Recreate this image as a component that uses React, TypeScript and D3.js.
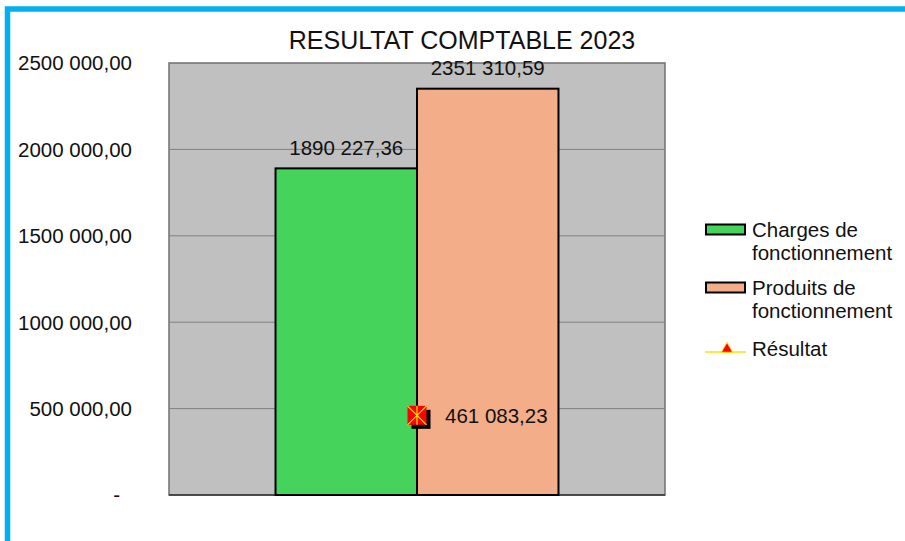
import React, { useRef, useEffect } from "react";
import * as d3 from "d3";

// data
const categories = ["2023"];
const seriesNames = ["Charges de fonctionnement", "Produits de fonctionnement"];
const seriesValues = [1890227.36, 2351310.59];
const resultName = "Résultat";
const resultValue = [461083.23];
const yTicks = [0, 500000, 1000000, 1500000, 2000000, 2500000];
const title = "RESULTAT COMPTABLE 2023";

const colors = ["#45d35c", "#f3ad89"];
const W = 905;
const H = 541;
const plot = { left: 169, top: 63, right: 665, bottom: 495 };
const font = "'Liberation Sans', Arial, sans-serif";

const fr = d3.formatLocale({ decimal: ",", thousands: " ", grouping: [3, 4], currency: ["", ""] });
const fmt = (v: number) => (v === 0 ? "-" : fr.format(",.2f")(v));

function App() {
  const svgRef = useRef<SVGSVGElement>(null);

  useEffect(() => {
    const svg = d3.select(svgRef.current);
    svg.selectAll("*").remove();

    const y = d3.scaleLinear().domain([0, 2500000]).range([plot.bottom, plot.top]);
    const x = d3.scaleBand().domain(categories).range([plot.left, plot.right]).padding(0.2735);
    const xs = d3.scaleBand().domain(seriesNames).range([0, x.bandwidth()]);

    // frame
    svg.append("rect").attr("x", 7.5).attr("y", 9).attr("width", W).attr("height", H)
      .attr("fill", "none").attr("stroke", "#00b0f0").attr("stroke-width", 5.5);

    svg.append("text").attr("x", 462).attr("y", 49).attr("text-anchor", "middle")
      .attr("font-size", 25).attr("font-family", font).attr("fill", "#111").text(title);

    // plot area
    svg.append("rect").attr("x", plot.left).attr("y", plot.top)
      .attr("width", plot.right - plot.left).attr("height", plot.bottom - plot.top)
      .attr("fill", "#c0c0c0").attr("stroke", "#707070").attr("stroke-width", 1.5);

    svg.selectAll(".grid").data(yTicks.filter((d) => d > 0 && d < 2500000)).join("line")
      .attr("x1", plot.left).attr("x2", plot.right)
      .attr("y1", (d) => y(d)).attr("y2", (d) => y(d))
      .attr("stroke", "#808080").attr("stroke-width", 1);

    svg.selectAll(".ytick").data(yTicks).join("text")
      .attr("x", (d) => (d === 0 ? 120 : 132)).attr("y", (d) => y(d) + 7.3)
      .attr("text-anchor", "end").attr("font-size", 20.5).attr("font-family", font)
      .attr("fill", "#111").text((d) => fmt(d));

    svg.append("line").attr("x1", plot.left).attr("x2", plot.right)
      .attr("y1", plot.bottom).attr("y2", plot.bottom).attr("stroke", "#333").attr("stroke-width", 1.5);

    // bars
    const cat = categories[0];
    svg.selectAll(".bar").data(seriesValues).join("rect")
      .attr("x", (d, i) => x(cat)! + xs(seriesNames[i])!)
      .attr("y", (d) => y(d))
      .attr("width", xs.bandwidth())
      .attr("height", (d) => y(0) - y(d))
      .attr("fill", (d, i) => colors[i]).attr("stroke", "#000").attr("stroke-width", 2);

    svg.selectAll(".blab").data(seriesValues).join("text")
      .attr("x", (d, i) => x(cat)! + xs(seriesNames[i])! + xs.bandwidth() / 2)
      .attr("y", (d) => y(d) - 13.5)
      .attr("text-anchor", "middle").attr("font-size", 20.5).attr("font-family", font)
      .attr("fill", "#111").text((d) => fmt(d));

    // result marker
    const cx = x(cat)! + x.bandwidth() / 2;
    resultValue.forEach((v) => {
      const cy = y(v);
      const s = 9.5;
      svg.append("rect").attr("x", cx - s + 4).attr("y", cy - s + 4).attr("width", 2 * s).attr("height", 2 * s).attr("fill", "#000");
      svg.append("rect").attr("x", cx - s).attr("y", cy - s).attr("width", 2 * s).attr("height", 2 * s).attr("fill", "#ff0000");
      svg.append("path").attr("d", `M${cx - s},${cy - s}L${cx + s},${cy + s}M${cx + s},${cy - s}L${cx - s},${cy + s}M${cx},${cy - s}L${cx},${cy + s}`)
        .attr("stroke", "#ffe000").attr("stroke-width", 1.2);
      svg.append("text").attr("x", cx + 28).attr("y", cy + 7.5).attr("font-size", 20.5)
        .attr("font-family", font).attr("fill", "#111").text(fmt(v));
    });

    // legend
    const lg = svg.append("g").attr("font-family", font).attr("font-size", 20.5).attr("fill", "#111");
    const legRows = [237, 295];
    seriesNames.forEach((name, i) => {
      const by = legRows[i];
      lg.append("rect").attr("x", 706).attr("y", by - 12.5).attr("width", 39).attr("height", 10)
        .attr("fill", colors[i]).attr("stroke", "#000").attr("stroke-width", 2);
      const words = name.split(" ");
      const t = lg.append("text").attr("x", 752).attr("y", by);
      t.append("tspan").attr("x", 752).attr("dy", 0).text(words.slice(0, 2).join(" "));
      t.append("tspan").attr("x", 752).attr("dy", 23).text(words.slice(2).join(" "));
    });
    lg.append("line").attr("x1", 705).attr("x2", 746).attr("y1", 352).attr("y2", 352)
      .attr("stroke", "#ffe000").attr("stroke-width", 1.5);
    lg.append("path").attr("d", d3.symbol(d3.symbolTriangle, 55)())
      .attr("transform", "translate(727,349)").attr("fill", "#ff0000").attr("stroke", "#ffe000").attr("stroke-width", 1);
    lg.append("text").attr("x", 752).attr("y", 356).text(resultName);
  }, []);

  return (
    <svg ref={svgRef} width={W} height={H}
      style={{ position: "fixed", left: 0, top: 0, background: "#fff" }} />
  );
}

export default App;
